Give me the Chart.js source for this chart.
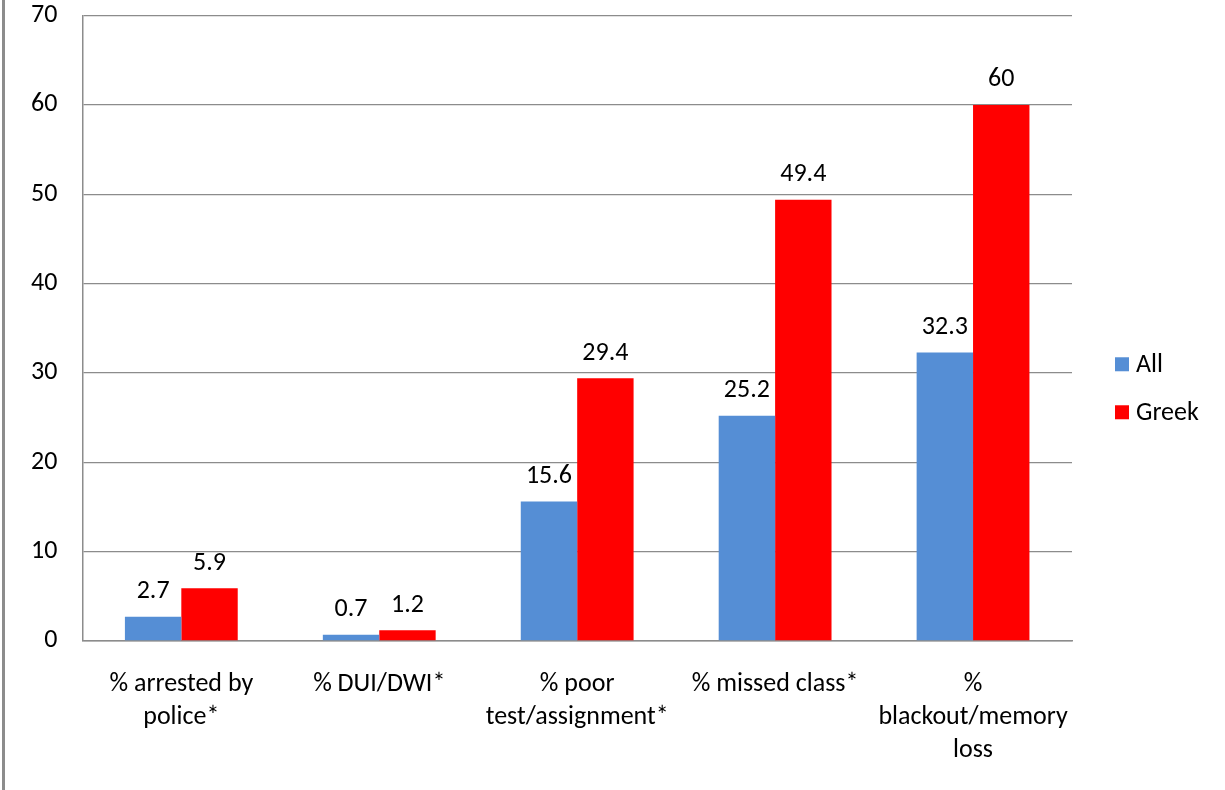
<!DOCTYPE html>
<html>
<head>
<meta charset="utf-8">
<script src="https://cdn.jsdelivr.net/npm/chart.js@4.4.1/dist/chart.umd.min.js"></script>
<style>
  html, body { margin: 0; padding: 0; background: #fff; overflow: hidden; }
  #wrap { position: absolute; left: 0; top: -25px; width: 1225px; height: 841px; }
  #edge { position: absolute; left: 2px; top: 0; width: 3px; height: 790px; background: #8c8c8c; }
</style>
</head>
<body>
<div id="wrap"><canvas id="myBarChart"></canvas></div>
<div id="edge"></div>
<script>
const categories = [
  ['% arrested by', 'police*'],
  '% DUI/DWI*',
  ['% poor', 'test/assignment*'],
  '% missed class*',
  ['%', 'blackout/memory', 'loss']
];
const allValues = [2.7, 0.7, 15.6, 25.2, 32.3];
const greekValues = [5.9, 1.2, 29.4, 49.4, 60];
const yTicks = [0, 10, 20, 30, 40, 50, 60, 70];

const fontFamily = "Carlito, Lato, 'Open Sans', sans-serif";
const fontSize = 26;

// draws the value above each bar, and the legend to the right of the plot
const valueLabels = {
  id: 'valueLabels',
  afterDatasetsDraw(chart) {
    const ctx = chart.ctx;
    ctx.save();
    ctx.font = fontSize + 'px ' + fontFamily;
    ctx.fillStyle = '#000';
    ctx.textAlign = 'center';
    ctx.textBaseline = 'bottom';
    chart.data.datasets.forEach((ds, i) => {
      chart.getDatasetMeta(i).data.forEach((bar, j) => {
        ctx.fillText(String(ds.data[j]), bar.x, bar.y - 12);
      });
    });

    // legend
    const area = chart.chartArea;
    const midY = (area.top + area.bottom) / 2;
    const x0 = area.right + 43;
    ctx.textAlign = 'left';
    ctx.textBaseline = 'middle';
    chart.data.datasets.forEach((ds, i) => {
      const cy = midY + 36 + i * 48;
      ctx.fillStyle = ds.backgroundColor;
      ctx.fillRect(x0, cy - 7, 14, 14);
      ctx.fillStyle = '#000';
      ctx.fillText(ds.label, x0 + 21, cy + 1);
    });
    ctx.restore();
  }
};

function createChart() {
  const ctx = document.getElementById('myBarChart').getContext('2d');
  new Chart(ctx, {
    type: 'bar',
    data: {
      labels: categories,
      datasets: [
        { label: 'All', data: allValues, backgroundColor: '#558ed5' },
        { label: 'Greek', data: greekValues, backgroundColor: '#ff0000' }
      ]
    },
    options: {
      responsive: true,
      maintainAspectRatio: false,
      animation: false,
      layout: { padding: { left: 6, right: 153, top: 2, bottom: 30 } },
      datasets: { bar: { categoryPercentage: 0.57, barPercentage: 1.0 } },
      scales: {
        x: {
          grid: { display: false },
          border: { color: '#8c8c8c', width: 1.5 },
          ticks: {
            color: '#000',
            font: { family: fontFamily, size: fontSize, lineHeight: 1.27 },
            maxRotation: 0,
            padding: 19
          }
        },
        y: {
          min: 0,
          max: 70,
          afterBuildTicks: (axis) => { axis.ticks = yTicks.map(v => ({ value: v })); },
          grid: { color: '#8c8c8c', lineWidth: 1.2, drawTicks: false },
          border: { color: '#8c8c8c', width: 1.5 },
          ticks: {
            color: '#000',
            font: { family: fontFamily, size: fontSize },
            padding: 25
          }
        }
      },
      plugins: {
        legend: { display: false },
        tooltip: { enabled: false }
      }
    },
    plugins: [valueLabels]
  });
}

document.addEventListener('DOMContentLoaded', createChart);
</script>
</body>
</html>
